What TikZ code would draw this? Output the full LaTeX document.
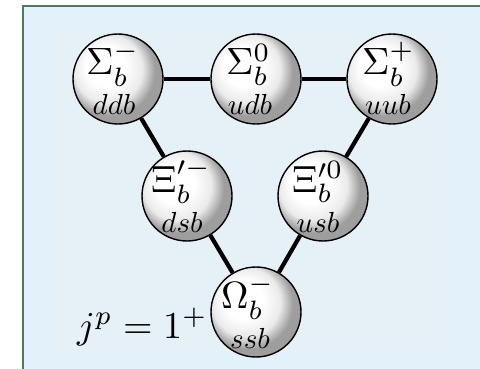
\documentclass[tikz,border=0pt]{standalone}
\usepackage{graphicx}
\usetikzlibrary{backgrounds}
\definecolor{frame}{HTML}{4A7D60}
\definecolor{paper}{HTML}{E3F1FB}
\definecolor{inset}{HTML}{E5F1F6}
\pgfdeclareradialshading{pearl}{\pgfpoint{-9bp}{9bp}}{color(0bp)=(white); color(11bp)=(white); color(19bp)=(black!8); color(25bp)=(black!38); color(50bp)=(black!38)}
\newcommand{\hadron}[1]{\scalebox{3.8}{$#1$}}
\newcommand{\quarks}[1]{\scalebox{2.9}{$#1$}}

\begin{document}
\begin{tikzpicture}[x=1pt, y=1pt,
  ball/.style={circle, draw=black, line width=1.4pt, minimum size=90pt, inner sep=0pt, shade, shading=pearl},
  sym/.style={anchor=base west, inner sep=0pt},
  qrk/.style={anchor=base, inner sep=0pt},
  link/.style={line width=4.2pt}]
  \useasboundingbox (0,0) rectangle (480,-369);
  % frame and inset
  \draw[frame, line width=2.5pt, fill=paper] (23,-6) rectangle (520,-420);
  \fill[inset] (55,-25) rectangle (448,-352);
  % baryons
  \node[ball] (sigm) at (118,-79) {};
  \node[ball] (sigz) at (256,-79) {};
  \node[ball] (sigp) at (392,-79) {};
  \node[ball] (xim) at (187,-196) {};
  \node[ball] (xiz) at (323,-196) {};
  \node[ball] (om) at (256,-312) {};
  % links
  \draw[link] (sigm) -- (sigz);
  \draw[link] (sigz) -- (sigp);
  \draw[link] (sigm) -- (xim);
  \draw[link] (sigp) -- (xiz);
  \draw[link] (xim) -- (om);
  \draw[link] (xiz) -- (om);
  % labels
  \node[sym] at ([shift={(-32,4)}]sigm.center) {\hadron{\Sigma_b^-}};
  \node[qrk] at ([shift={(-4,-36)}]sigm.center) {\quarks{ddb}};
  \node[sym] at ([shift={(-30,4)}]sigz.center) {\hadron{\Sigma_b^0}};
  \node[qrk] at ([shift={(-6,-36)}]sigz.center) {\quarks{udb}};
  \node[sym] at ([shift={(-30,4)}]sigp.center) {\hadron{\Sigma_b^+}};
  \node[qrk] at ([shift={(-4,-36)}]sigp.center) {\quarks{uub}};
  \node[sym] at ([shift={(-36,4)}]xim.center) {\hadron{\Xi_b^{\prime -}}};
  \node[qrk] at ([shift={(-5,-36)}]xim.center) {\quarks{dsb}};
  \node[sym] at ([shift={(-31,4)}]xiz.center) {\hadron{\Xi_b^{\prime 0}}};
  \node[qrk] at ([shift={(-5,-36)}]xiz.center) {\quarks{usb}};
  \node[sym] at ([shift={(-35,4)}]om.center) {\hadron{\Omega_b^-}};
  \node[qrk] at ([shift={(-6,-36)}]om.center) {\quarks{ssb}};
  \node[sym] (spin) at (77,-338) {\scalebox{3.8}{$j^p = 1^+$}};
\end{tikzpicture}
\end{document}
